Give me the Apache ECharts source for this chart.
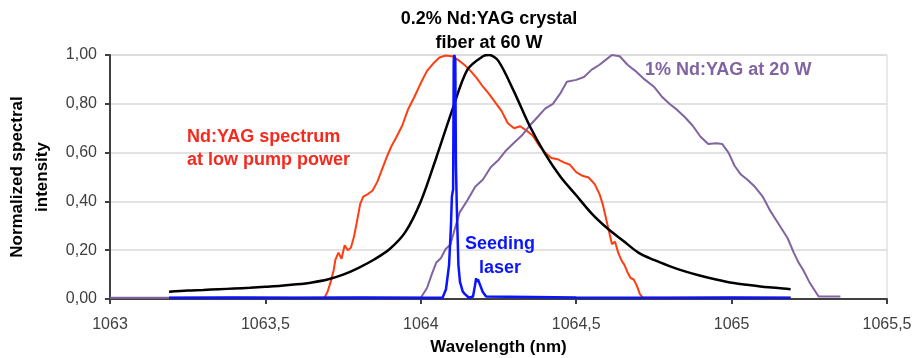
<!DOCTYPE html>
<html>
<head>
<meta charset="utf-8">
<script src="https://cdn.jsdelivr.net/npm/echarts@6/dist/echarts.min.js"></script>
<style>
html,body{margin:0;padding:0;background:#fff;}
#chart{width:914px;height:358px;}
</style>
</head>
<body>
<div id="chart"></div>
<script>
// Axis ticks
var xTicks = [1063, 1063.5, 1064, 1064.5, 1065, 1065.5];
var yTicks = [0, 0.2, 0.4, 0.6, 0.8, 1.0];

// 0.2% Nd:YAG crystal fiber at 60 W  [wavelength nm, normalized intensity]
var fiber60W = [
  [1063.19,0.030],[1063.25,0.035],[1063.30,0.037],[1063.35,0.040],[1063.40,0.043],
  [1063.45,0.046],[1063.50,0.050],[1063.55,0.054],[1063.60,0.060],[1063.65,0.068],
  [1063.70,0.080],[1063.75,0.100],[1063.80,0.128],[1063.85,0.162],[1063.90,0.205],
  [1063.95,0.274],[1064.00,0.400],[1064.05,0.580],[1064.10,0.770],[1064.15,0.940],
  [1064.20,0.995],[1064.22,1.000],[1064.25,0.975],[1064.30,0.850],[1064.35,0.710],
  [1064.40,0.595],[1064.45,0.500],[1064.50,0.425],[1064.55,0.350],[1064.60,0.290],
  [1064.65,0.240],[1064.70,0.190],[1064.75,0.160],[1064.80,0.135],[1064.85,0.113],
  [1064.90,0.095],[1064.95,0.080],[1065.00,0.067],[1065.05,0.058],[1065.10,0.050],
  [1065.15,0.045],[1065.19,0.040]
];

// Nd:YAG spectrum at low pump power
var lowPump = [
  [1063.69,0.005],[1063.70,0.030],[1063.71,0.070],[1063.72,0.120],[1063.725,0.160],
  [1063.735,0.190],[1063.745,0.165],[1063.755,0.220],[1063.765,0.200],[1063.775,0.210],
  [1063.785,0.255],[1063.795,0.320],[1063.805,0.390],[1063.815,0.420],[1063.83,0.430],
  [1063.845,0.445],[1063.86,0.480],[1063.875,0.530],[1063.89,0.580],[1063.905,0.625],
  [1063.92,0.660],[1063.94,0.710],[1063.96,0.780],[1063.98,0.830],[1064.00,0.885],
  [1064.02,0.935],[1064.04,0.965],[1064.06,0.990],[1064.08,0.998],[1064.10,0.995],
  [1064.12,0.980],[1064.14,0.960],[1064.16,0.935],[1064.18,0.905],[1064.20,0.870],
  [1064.22,0.840],[1064.24,0.805],[1064.26,0.770],[1064.28,0.720],[1064.30,0.700],
  [1064.32,0.708],[1064.34,0.690],[1064.36,0.670],[1064.38,0.630],[1064.40,0.600],
  [1064.42,0.578],[1064.44,0.573],[1064.46,0.560],[1064.48,0.550],[1064.50,0.520],
  [1064.52,0.505],[1064.54,0.498],[1064.56,0.470],[1064.575,0.430],[1064.585,0.390],
  [1064.595,0.335],[1064.605,0.280],[1064.615,0.225],[1064.625,0.235],[1064.635,0.190],
  [1064.645,0.160],[1064.655,0.140],[1064.665,0.110],[1064.675,0.086],[1064.685,0.080],
  [1064.695,0.055],[1064.705,0.020],[1064.715,0.005],[1065.19,0.005]
];

// 1% Nd:YAG at 20 W
var yag20W = [
  [1063.00,0.005],[1064.00,0.005],[1064.02,0.045],[1064.035,0.100],[1064.05,0.150],
  [1064.065,0.168],[1064.08,0.205],[1064.095,0.222],[1064.11,0.290],[1064.125,0.355],
  [1064.15,0.405],[1064.175,0.460],[1064.20,0.490],[1064.225,0.540],[1064.25,0.570],
  [1064.275,0.610],[1064.30,0.640],[1064.325,0.670],[1064.35,0.710],[1064.375,0.745],
  [1064.40,0.780],[1064.425,0.800],[1064.45,0.845],[1064.47,0.890],[1064.50,0.898],
  [1064.525,0.910],[1064.55,0.940],[1064.575,0.960],[1064.60,0.985],[1064.615,1.000],
  [1064.64,0.995],[1064.665,0.960],[1064.69,0.935],[1064.72,0.900],[1064.75,0.870],
  [1064.775,0.830],[1064.80,0.800],[1064.825,0.775],[1064.85,0.745],[1064.875,0.710],
  [1064.90,0.665],[1064.925,0.635],[1064.95,0.638],[1064.97,0.635],[1064.99,0.600],
  [1065.01,0.545],[1065.03,0.510],[1065.05,0.490],[1065.075,0.460],[1065.10,0.420],
  [1065.125,0.360],[1065.14,0.330],[1065.16,0.290],[1065.18,0.250],[1065.20,0.190],
  [1065.215,0.150],[1065.23,0.120],[1065.25,0.070],[1065.27,0.030],[1065.28,0.010],
  [1065.35,0.010]
];

// Seeding laser
var seedLaser = [
  [1063.19,0.005],[1063.40,0.006],[1063.60,0.005],[1063.80,0.006],[1064.00,0.005],
  [1064.07,0.005],[1064.081,0.040],[1064.091,0.140],[1064.097,0.300],[1064.100,0.420],
  [1064.104,0.450],[1064.106,0.980],[1064.108,1.000],[1064.111,0.980],[1064.113,0.550],
  [1064.116,0.370],[1064.121,0.140],[1064.126,0.070],[1064.135,0.030],[1064.142,0.020],
  [1064.155,0.005],[1064.168,0.010],[1064.175,0.060],[1064.178,0.085],[1064.181,0.070],
  [1064.184,0.080],[1064.19,0.060],[1064.199,0.030],[1064.21,0.010],[1064.216,0.005],
  [1064.50,0.006],[1064.80,0.005],[1065.00,0.006],[1065.19,0.005]
];

var FONT = '"Liberation Sans", Arial, Helvetica, sans-serif';
var chart = echarts.init(document.getElementById('chart'), null, {renderer: 'canvas'});

function comma(v, d) {
  return (d === undefined ? String(v) : v.toFixed(d)).replace('.', ',');
}

var option = {
  animation: false,
  backgroundColor: '#ffffff',
  textStyle: {fontFamily: FONT},
  grid: {left: 110, right: 27, top: 55, bottom: 59, show: true, borderColor: '#d4d4d4', borderWidth: 1,
    containLabel: false, outerBoundsMode: 'none'},
  xAxis: {
    type: 'value',
    min: xTicks[0], max: xTicks[xTicks.length - 1], interval: 0.5,
    name: 'Wavelength (nm)', nameLocation: 'middle', nameGap: 40,
    nameTextStyle: {fontFamily: FONT, fontSize: 17, fontWeight: 'bold', color: '#000'},
    axisLine: {show: true, onZero: false, lineStyle: {color: '#404040', width: 2}},
    axisTick: {show: true, length: 5, lineStyle: {color: '#404040', width: 2}},
    axisLabel: {fontFamily: FONT, fontSize: 16, color: '#404040', margin: 18,
      formatter: function (v) { return comma(+v.toFixed(1)); }},
    splitLine: {show: false}
  },
  yAxis: {
    type: 'value',
    min: yTicks[0], max: yTicks[yTicks.length - 1], interval: 0.2,
    name: 'Normalized spectral\nintensity', nameLocation: 'middle', nameGap: 49, nameRotate: 90,
    nameTextStyle: {fontFamily: FONT, fontSize: 17, fontWeight: 'bold', color: '#000', lineHeight: 25},
    axisLine: {show: true, lineStyle: {color: '#404040', width: 2}},
    axisTick: {show: true, length: 5, lineStyle: {color: '#404040', width: 2}},
    axisLabel: {fontFamily: FONT, fontSize: 16, color: '#404040', margin: 13,
      formatter: function (v) { return comma(v, 2); }},
    splitLine: {show: true, lineStyle: {color: '#d9d9d9', width: 1.5}}
  },
  series: [
    {name: 'low pump', type: 'line', data: lowPump, showSymbol: false, symbol: 'none',
      lineStyle: {color: '#ff3d12', width: 2}, z: 2},
    {name: '1% 20W', type: 'line', data: yag20W, showSymbol: false, symbol: 'none',
      lineStyle: {color: '#8064a2', width: 2}, z: 3},
    {name: 'fiber 60W', type: 'line', data: fiber60W, showSymbol: false, symbol: 'none', smooth: 0.3,
      lineStyle: {color: '#000000', width: 2.5}, z: 4},
    {name: 'seed', type: 'line', data: seedLaser, showSymbol: false, symbol: 'none',
      lineStyle: {color: '#0a14ff', width: 2.5}, z: 5}
  ],
  graphic: [
    {type: 'text', x: 489, y: 31, z: 10, style: {text: '0.2% Nd:YAG crystal\nfiber at 60 W', align: 'center', verticalAlign: 'middle',
      fontFamily: FONT, fontSize: 18, fontWeight: 'bold', fill: '#000', lineHeight: 24}},
    {type: 'text', x: 187, y: 148.5, z: 10, style: {text: 'Nd:YAG spectrum\nat low pump power', align: 'left', verticalAlign: 'middle',
      fontFamily: FONT, fontSize: 18, fontWeight: 'bold', fill: '#f52a1e', lineHeight: 23}},
    {type: 'text', x: 645, y: 70, z: 10, style: {text: '1% Nd:YAG at 20 W', align: 'left', verticalAlign: 'middle',
      fontFamily: FONT, fontSize: 18, fontWeight: 'bold', fill: '#8064a2'}},
    {type: 'text', x: 500, y: 256, z: 10, style: {text: 'Seeding\nlaser', align: 'center', verticalAlign: 'middle',
      fontFamily: FONT, fontSize: 18, fontWeight: 'bold', fill: '#0a14ff', lineHeight: 24}}
  ]
};
chart.setOption(option);
</script>
</body>
</html>
